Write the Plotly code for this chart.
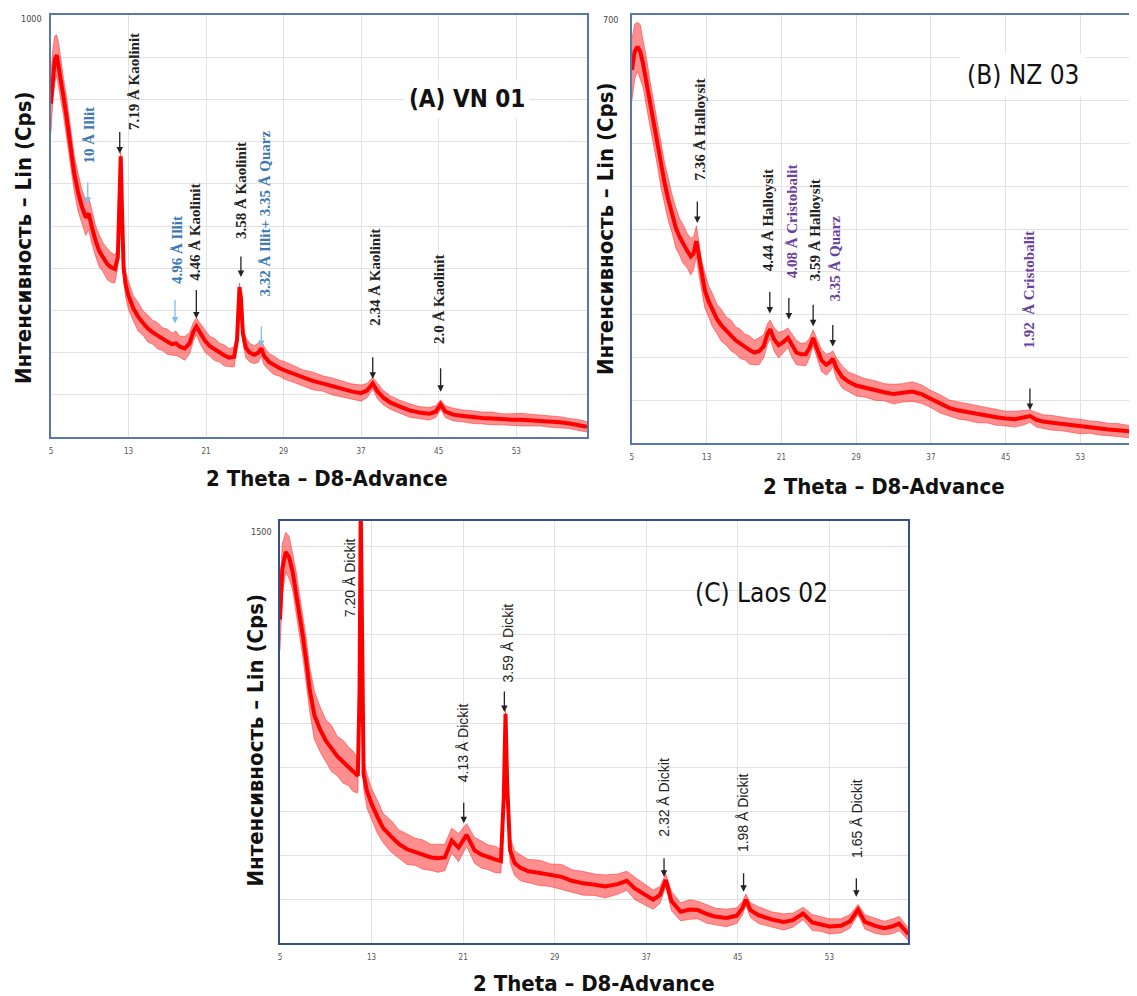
import plotly.graph_objects as go

# ---------------- data ----------------
# Panel A: VN 01  (2-theta, centre of noisy trace in counts, half-width of noise band)
a_theta = [5.0, 5.2, 5.4, 5.6, 5.8, 6.0, 6.3, 6.6, 7.0, 7.4,
           7.8, 8.2, 8.6, 8.9, 9.2, 9.6, 10.0, 10.4, 10.8, 11.2,
           11.6, 11.9, 12.05, 12.2, 12.35, 12.5, 12.7, 13.0, 13.5, 14.0,
           14.5, 15.0, 15.5, 16.0, 16.5, 17.0, 17.5, 17.9, 18.3, 18.8,
           19.3, 19.7, 20.0, 20.4, 20.9, 21.4, 21.9, 22.4, 22.9, 23.4,
           23.9, 24.2, 24.45, 24.6, 24.8, 25.1, 25.5, 26.0, 26.4, 26.7,
           27.0, 27.5, 28.0, 28.6, 29.2, 30.0, 31.0, 32.0, 33.0, 34.0,
           35.0, 36.0, 37.0, 37.6, 38.2, 38.7, 39.3, 40.0, 41.0, 42.0,
           43.0, 44.0, 44.7, 45.2, 45.7, 46.5, 47.5, 48.5, 49.5, 50.5,
           51.5, 52.5, 53.5, 54.5, 55.5, 56.5, 57.5, 58.5, 59.5, 60.3]
a_counts = [790, 860, 895, 905, 880, 850, 805, 760, 690, 625,
            580, 545, 520, 530, 500, 465, 440, 425, 410, 402,
            398, 425, 540, 665, 520, 400, 362, 335, 305, 285,
            270, 257, 248, 240, 232, 226, 220, 222, 214, 210,
            222, 250, 262, 245, 228, 215, 207, 200, 193, 188,
            190, 230, 355, 330, 245, 212, 200, 195, 200, 210,
            192, 178, 170, 163, 157, 150, 140, 133, 127, 120,
            114, 108, 104, 110, 127, 108, 93, 82, 72, 63,
            58, 55, 60, 77, 60, 53, 50, 47, 45, 44,
            42, 41, 41, 40, 39, 37, 35, 32, 28, 24]
a_spread = [70, 60, 55, 48, 52, 46, 44, 48, 45, 42,
            45, 40, 42, 38, 40, 36, 38, 34, 37, 35,
            33, 22, 16, 10, 16, 22, 30, 33, 30, 34,
            29, 32, 28, 31, 27, 30, 26, 29, 25, 28,
            25, 22, 20, 24, 27, 23, 26, 22, 25, 21,
            24, 16, 10, 12, 18, 24, 22, 21, 23, 18,
            22, 20, 22, 19, 21, 20, 19, 21, 18, 20,
            19, 18, 19, 17, 14, 18, 17, 16, 15, 16,
            14, 15, 14, 11, 14, 15, 14, 15, 14, 15,
            13, 14, 15, 14, 13, 14, 13, 12, 13, 12]

# Panel B: NZ 03
b_theta = [5.0, 5.3, 5.6, 5.9, 6.2, 6.5, 6.9, 7.3, 7.7, 8.1,
           8.5, 8.9, 9.3, 9.7, 10.1, 10.5, 10.9, 11.3, 11.6, 11.9,
           12.2, 12.5, 12.8, 13.2, 13.6, 14.1, 14.6, 15.1, 15.6, 16.1,
           16.6, 17.1, 17.6, 18.1, 18.6, 19.1, 19.5, 19.8, 20.2, 20.7,
           21.2, 21.7, 22.1, 22.6, 23.1, 23.6, 24.0, 24.4, 24.8, 25.3,
           25.8, 26.2, 26.5, 26.9, 27.5, 28.2, 29.0, 30.0, 31.0, 32.0,
           33.0, 34.0, 35.0, 36.0, 37.0, 38.0, 39.0, 40.0, 41.0, 42.0,
           43.0, 44.0, 45.0, 46.0, 47.0, 47.6, 48.3, 49.0, 50.0, 51.0,
           52.0, 53.0, 54.0, 55.0, 56.0, 57.0, 58.0, 59.06]
b_counts = [610, 640, 648, 640, 620, 595, 560, 525, 490, 455,
            425, 398, 375, 352, 337, 325, 315, 305, 310, 330,
            300, 270, 250, 232, 218, 203, 192, 183, 176, 168,
            162, 157, 152, 148, 150, 158, 178, 186, 170, 160,
            165, 172, 160, 148, 145, 145, 155, 172, 155, 135,
            128, 132, 138, 122, 108, 100, 94, 90, 86, 83,
            80, 82, 84, 80, 72, 64, 57, 53, 50, 47,
            45, 42, 40, 39, 42, 44, 38, 35, 33, 31,
            29, 27, 26, 24, 22, 21, 19, 18]
b_spread = [50, 45, 40, 44, 38, 40, 36, 38, 34, 36,
            33, 35, 31, 33, 30, 32, 28, 30, 27, 25,
            28, 26, 29, 25, 27, 24, 26, 23, 25, 22,
            24, 21, 23, 20, 22, 19, 17, 15, 19, 21,
            18, 16, 19, 20, 18, 19, 16, 13, 15, 18,
            17, 15, 13, 17, 18, 16, 17, 15, 16, 14,
            16, 15, 16, 15, 14, 15, 13, 14, 13, 14,
            12, 13, 12, 13, 12, 10, 12, 11, 12, 11,
            11, 12, 10, 11, 10, 11, 10, 10]

# Panel C: Laos 02
c_theta = [5.0, 5.2, 5.5, 5.8, 6.1, 6.4, 6.7, 7.0, 7.3, 7.6,
           8.0, 8.5, 9.0, 9.5, 10.0, 10.5, 11.0, 11.4, 11.8, 11.95,
           12.05, 12.15, 12.3, 12.6, 13.0, 13.5, 14.0, 14.7, 15.4, 16.1,
           16.8, 17.5, 18.2, 18.8, 19.4, 20.0, 20.6, 21.3, 22.0, 22.6,
           23.2, 23.8, 24.3, 24.55, 24.7, 24.85, 25.1, 25.5, 26.0, 26.7,
           27.7, 28.6, 29.6, 30.5, 31.5, 32.5, 33.4, 34.5, 35.3, 36.0,
           36.8, 37.6, 38.2, 38.7, 39.2, 40.0, 40.8, 41.5, 42.3, 43.0,
           44.0, 44.9, 45.4, 45.7, 46.1, 46.8, 48.0, 49.0, 49.8, 50.7,
           51.5, 52.3, 53.0, 54.0, 54.8, 55.5, 56.1, 57.0, 57.8, 58.5,
           59.1, 59.9]
c_counts = [1150, 1330, 1390, 1370, 1320, 1250, 1170, 1090, 1000, 900,
            810, 760, 720, 692, 665, 645, 628, 610, 595, 900,
            1560, 1000, 600, 540, 495, 450, 410, 380, 352, 334,
            325, 315, 305, 302, 305, 365, 340, 385, 330, 315,
            305, 298, 292, 520, 815, 560, 330, 285, 268, 256,
            250, 242, 236, 222, 213, 208, 202, 210, 222, 195,
            175, 155, 172, 225, 150, 112, 120, 118, 104, 95,
            90, 98, 125, 155, 118, 100, 84, 76, 82, 106,
            74, 68, 60, 62, 78, 120, 76, 62, 54, 60,
            70, 32]
c_spread = [110, 90, 70, 75, 65, 72, 68, 75, 80, 78,
            85, 80, 75, 82, 70, 76, 68, 72, 60, 30,
            15, 25, 50, 60, 55, 58, 52, 56, 50, 54,
            48, 52, 46, 50, 47, 44, 50, 40, 46, 48,
            44, 47, 42, 25, 15, 25, 45, 44, 46, 42,
            45, 40, 44, 39, 42, 38, 41, 36, 34, 40,
            37, 34, 30, 22, 34, 32, 35, 31, 33, 30,
            31, 28, 24, 20, 26, 30, 27, 29, 25, 22,
            28, 26, 27, 25, 24, 18, 25, 27, 24, 26,
            25, 22]

x_ticks = [5, 13, 21, 29, 37, 45, 53]
y_top_labels = ["1000", "700", "1500"]

# ---------------- styling / layout ----------------
# the page body has an 8 px margin, so the figure is placed at (8, 8)
OFF = 8
W, H = 1137 - OFF, 996 - OFF
def px(x):
    return (x - OFF) / W
def py(y):
    return 1 - (y - OFF) / H

COND = "DejaVu Sans Condensed, DejaVu Sans, sans-serif"
SERIF = "Liberation Serif, Times New Roman, serif"
SANS = "Liberation Sans, Arial, sans-serif"
DARK = "#222222"
BLUE = "#3b78b4"
LBLUE = "#86bde6"
PURPLE = "#6a3f9e"

panels = [
    dict(ax="", theta=a_theta, counts=a_counts, spread=a_spread,
         dom_x=(49, 586), dom_y=(15, 437), xr=[5, 60.3], yr=[0, 1000],
         grid=[100 * k for k in range(1, 10)], border="#5877ab", mirror_y=True),
    dict(ax="2", theta=b_theta, counts=b_counts, spread=b_spread,
         dom_x=(631, 1137), dom_y=(15, 443), xr=[5, 59.06], yr=[0, 700],
         grid=[70 * k for k in range(1, 10)], border="#5877ab", mirror_y=False),
    dict(ax="3", theta=c_theta, counts=c_counts, spread=c_spread,
         dom_x=(278.5, 908), dom_y=(521, 943.3), xr=[5, 59.9], yr=[0, 1500],
         grid=[156.5 * k for k in range(1, 10)], border="#34508a", mirror_y=True),
]

fig = go.Figure()
layout = dict(width=W, height=H, margin=dict(l=0, r=0, t=0, b=0),
              paper_bgcolor="white", plot_bgcolor="white", showlegend=False)

for p in panels:
    xa, ya = "x" + p["ax"], "y" + p["ax"]
    lower = [c - s for c, s in zip(p["counts"], p["spread"])]
    upper = [c + s for c, s in zip(p["counts"], p["spread"])]
    fig.add_trace(go.Scatter(x=p["theta"], y=lower, mode="lines", xaxis=xa, yaxis=ya,
                             line=dict(color="rgba(255,50,50,0.55)", width=1),
                             hoverinfo="skip"))
    fig.add_trace(go.Scatter(x=p["theta"], y=upper, mode="lines", xaxis=xa, yaxis=ya,
                             fill="tonexty", fillcolor="rgba(255,30,30,0.5)",
                             line=dict(color="rgba(255,50,50,0.55)", width=1),
                             hoverinfo="skip"))
    fig.add_trace(go.Scatter(x=p["theta"], y=p["counts"], mode="lines", xaxis=xa, yaxis=ya,
                             line=dict(color="#ff0000", width=4)))
    layout["xaxis" + p["ax"]] = dict(
        domain=[px(p["dom_x"][0]), px(p["dom_x"][1])], range=p["xr"], anchor=ya,
        tickvals=x_ticks, ticks="outside", ticklen=5, tickcolor="rgba(0,0,0,0)",
        tickfont=dict(family=COND, size=8, color="#555"),
        showgrid=True, gridcolor="#e2e2e2", gridwidth=1, zeroline=False,
        showline=True, linecolor=p["border"], linewidth=2, mirror=True)
    layout["yaxis" + p["ax"]] = dict(
        domain=[py(p["dom_y"][1]), py(p["dom_y"][0])], range=p["yr"], anchor=xa,
        tickvals=p["grid"], showticklabels=False, ticks="",
        showgrid=True, gridcolor="#e2e2e2", gridwidth=1, zeroline=False,
        showline=True, linecolor=p["border"], linewidth=2, mirror=p["mirror_y"])

ann = []

# peak labels: (text, x, y, colour) in data units of each panel
peak_labels = {
    "": [("10 Å Illit", 8.96, 715, BLUE), ("7.19 Å Kaolinit", 13.5, 842, DARK),
         ("4.96 Å Illit", 18.0, 443, BLUE), ("4.46 Å Kaolinit", 19.9, 485, DARK),
         ("3.58 Å Kaolinit", 24.6, 585, DARK), ("3.32 Å Illit+ 3.35 Å Quarz", 27.1, 530, BLUE),
         ("2.34 Å Kaolinit", 38.4, 379, DARK), ("2.0 Å Kaolinit", 45.1, 326, DARK)],
    "2": [("7.36 Å Halloysit", 12.25, 512, DARK), ("4.44 Å Halloysit", 19.6, 365, DARK),
          ("4.08 Å Cristobalit", 22.1, 362, PURPLE), ("3.59 Å Halloysit", 24.6, 348, DARK),
          ("3.35 Å Quarz", 26.7, 301, PURPLE), ("1.92  Å Cristobalit", 47.5, 251, PURPLE)],
    "3": [("7.20 Å Dickit", 11.1, 1300, DARK), ("4.13 Å Dickit", 21.0, 711, DARK),
          ("3.59 Å Dickit", 24.9, 1068, DARK), ("2.32 Å Dickit", 38.6, 519, DARK),
          ("1.98 Å Dickit", 45.4, 464, DARK), ("1.65 Å Dickit", 55.4, 445, DARK)],
}
# arrows: (x, y of head, length px, colour)
peak_arrows = {
    "": [(8.8, 553, 23, LBLUE), (12.1, 672, 23, DARK), (17.8, 269, 25, LBLUE),
         (20.0, 281, 30, DARK), (24.6, 379, 22, DARK), (26.7, 213, 22, LBLUE),
         (38.2, 138, 23, DARK), (45.2, 107, 25, DARK)],
    "2": [(12.0, 360, 23, DARK), (19.76, 212, 23, DARK), (21.8, 202, 23, DARK),
          (24.4, 191, 23, DARK), (26.5, 158, 23, DARK), (47.6, 54, 23, DARK)],
    "3": [(21.05, 426, 22, DARK), (24.6, 822, 22, DARK), (38.55, 236, 20, DARK),
          (45.5, 183, 20, DARK), (55.35, 165, 20, DARK)],
}

for key, labels in peak_labels.items():
    for text, x, y, col in labels:
        if key == "3":
            font = dict(family=SANS, size=14, color=col)
            t = text
        else:
            font = dict(family=SERIF, size=15, color=col)
            t = "<b>" + text + "</b>"
        ann.append(dict(x=x, y=y, xref="x" + key, yref="y" + key, text=t, textangle=-90,
                        showarrow=False, xanchor="center", yanchor="middle", font=font))
for key, arrows in peak_arrows.items():
    for x, y, ln, col in arrows:
        ann.append(dict(x=x, y=y, xref="x" + key, yref="y" + key, text="", showarrow=True,
                        arrowhead=2, arrowsize=1, arrowwidth=1.3, arrowcolor=col,
                        ax=0, ay=-ln, standoff=0))

# sample titles
ann.append(dict(x=47.9, y=802, xref="x", yref="y", text="<b>(A) VN 01</b>", showarrow=False,
                font=dict(family=COND, size=24, color="#111"), bgcolor="white", borderpad=4))
ann.append(dict(x=46.85, y=602, xref="x2", yref="y2", text="(B) NZ 03", showarrow=False,
                font=dict(family=COND, size=26, color="#111"), bgcolor="white", borderpad=6))
ann.append(dict(x=47.07, y=1243, xref="x3", yref="y3", text="(C) Laos 02", showarrow=False,
                font=dict(family=COND, size=26, color="#111")))

# y top labels
for (lx, ly), t in zip([(42, 19), (619, 20), (272, 532)], y_top_labels):
    ann.append(dict(x=px(lx), y=py(ly), xref="paper", yref="paper", text=t, showarrow=False,
                    xanchor="right", yanchor="middle",
                    font=dict(family=COND, size=9, color="#444")))

# axis titles
YT = "<b>Интенсивность – Lin (Cps)</b>"
XT = "<b>2 Theta – D8-Advance</b>"
for (tx, ty) in [(21, 237), (604, 228), (253, 740)]:
    ann.append(dict(x=px(tx), y=py(ty), xref="paper", yref="paper", text=YT, textangle=-90,
                    showarrow=False, xanchor="center", yanchor="middle",
                    font=dict(family=COND, size=22, color="#111")))
for (tx, ty) in [(326, 479), (884, 486), (593, 983)]:
    ann.append(dict(x=px(tx), y=py(ty), xref="paper", yref="paper", text=XT,
                    showarrow=False, xanchor="center", yanchor="middle",
                    font=dict(family=COND, size=22, color="#111")))

layout["annotations"] = ann
fig.update_layout(**layout)
fig.write_html("out.html")
